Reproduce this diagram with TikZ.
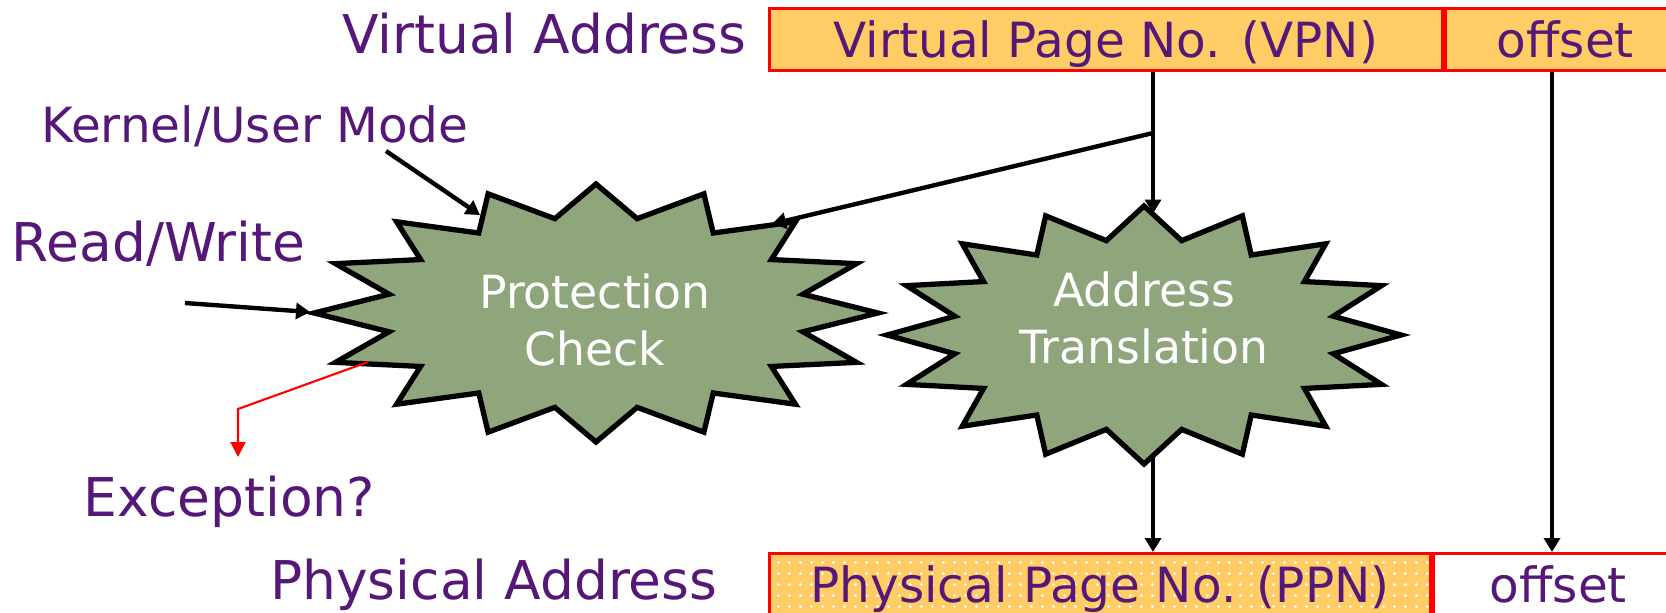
\documentclass[tikz,border=0pt]{standalone}
\usepackage{fontspec}
\setmainfont{DejaVu Sans}
\usepackage{xcolor}
\usetikzlibrary{positioning,arrows.meta,patterns,calc}

\definecolor{vmpurple}{HTML}{561878}
\definecolor{vmorange}{HTML}{FFCC66}
\definecolor{vmgreen}{HTML}{8FA67C}

\pgfdeclarepatternformonly{finedots}{\pgfpointorigin}{\pgfpoint{3.1pt}{3.1pt}}{\pgfpoint{3.1pt}{3.1pt}}%
  {\pgfpathcircle{\pgfpoint{1.55pt}{1.55pt}}{0.45pt}\pgfusepath{fill}}

\tikzset{
  bigtext/.style={text=vmpurple, font=\fontsize{15.2pt}{18pt}\selectfont, inner sep=0pt},
  modetext/.style={text=vmpurple, font=\fontsize{13.8pt}{16pt}\selectfont, inner sep=0pt},
  cell/.style={draw=red, line width=0.8pt, text=vmpurple, font=\fontsize{13.8pt}{16pt}\selectfont,
    minimum height=0.62cm, inner sep=0pt, text height=0.42cm, text depth=0.05cm, anchor=north west},
  burst/.style={draw=black, fill=vmgreen, line width=1.5pt, line join=miter},
  bursttext/.style={text=white, align=center, font=\fontsize{13pt}{16.1pt}\selectfont, inner sep=0pt},
  arr/.style={line width=1.25pt, -{Triangle[length=0.14cm,width=0.16cm]}},
  redarr/.style={red, line width=0.6pt, -{Triangle[length=0.15cm,width=0.15cm]}},
}

\begin{document}
\begin{tikzpicture}
    \useasboundingbox (0,0) rectangle (16.66,-6.12);

    % address fields
    \node[cell, fill=vmorange, minimum width=6.73cm] (vpn) at (7.68,-0.07) {Virtual Page No. (VPN)};
    \node[cell, fill=vmorange, minimum width=2.4cm, right=0pt of vpn] (voff) {offset};
    \node[cell, preaction={fill=vmorange}, pattern=finedots, pattern color=white,
          minimum width=6.61cm] (ppn) at (7.68,-5.52) {Physical Page No. (PPN)};
    \node[cell, minimum width=2.5cm, right=0pt of ppn] (poff) {offset};

    \node[bigtext, anchor=base east] (va) at (7.47,-0.533) {Virtual Address};
    \node[bigtext, anchor=base east] (pa) at (7.18,-5.99) {Physical Address};
    \node[modetext, anchor=base west] (km) at (0.41,-1.42) {Kernel/User Mode};
    \node[bigtext, anchor=base west] (rw) at (0.11,-2.617) {Read/Write};
    \node[bigtext, anchor=base west] (ex) at (0.83,-5.167) {Exception?};

    % the two 16-point bursts
    \foreach \cx/\cy/\rx/\ix in {5.96/-3.13/2.82cm/2.11cm, 11.44/-3.35/2.57cm/1.93cm}
        \draw[burst, shift={(\cx,\cy)}] (0:{\rx} and 1.29cm)
            \foreach \k in {1,...,16} {-- ({\k*22.5-11.25}:{\ix} and 0.962cm) -- ({\k*22.5}:{\rx} and 1.29cm)} -- cycle;

    \node[bursttext] (pc) at (5.95,-3.20) {Protection\\Check};
    \node[bursttext] (at) at (11.44,-3.18) {Address\\Translation};

    \coordinate (split) at (11.53,-1.33);
    \coordinate (at-in) at (11.53,-2.135);
    \coordinate (at-out) at (11.53,-4.57);
    \coordinate (pc-in) at (7.72,-2.24);
    \coordinate (offx) at (15.52,0);
    \coordinate (km-tail) at (3.86,-1.51);
    \coordinate (pc-km) at (4.80,-2.15);
    \coordinate (rw-tail) at (1.85,-3.03);
    \coordinate (pc-rw) at (3.10,-3.12);
    \coordinate (pc-ex) at (3.68,-3.62);
    \coordinate (ex-bend) at (2.38,-4.09);
    \coordinate (ex-tip) at (2.38,-4.57);

    \draw[arr] (vpn.south -| split) -- (at-in);
    \draw[arr] (split) -- (pc-in);
    \draw[arr] (at-out) -- (ppn.north -| at-out);
    \draw[arr] (voff.south -| offx) -- (poff.north -| offx);
    \draw[arr] (km-tail) -- (pc-km);
    \draw[arr] (rw-tail) -- (pc-rw);
    \draw[redarr] (pc-ex) -- (ex-bend) -- (ex-tip);
\end{tikzpicture}
\end{document}
